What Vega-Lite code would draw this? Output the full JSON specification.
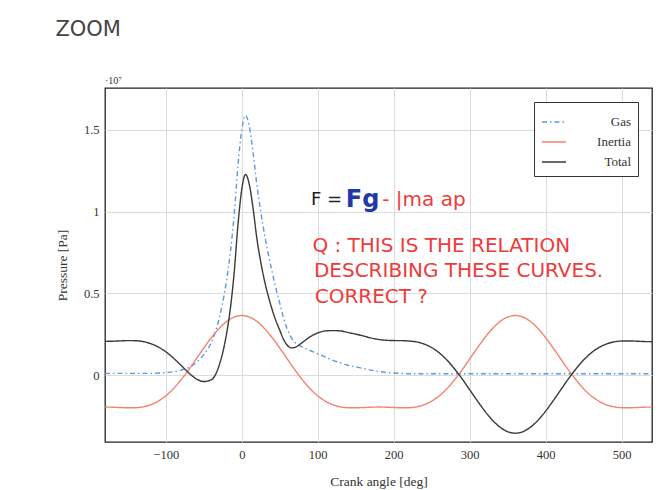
{
 "$schema": "https://vega.github.io/schema/vega-lite/v6.json",
 "width": 547, "height": 354,
 "autosize": {"type": "none"},
 "padding": {"left": 105, "top": 88, "right": 9, "bottom": 48},
 "background": "white",
 "config": {"font": "Liberation Serif", "view": {"stroke": "#222", "strokeWidth": 1.3}},
 "title": {"text": "ZOOM", "anchor": "start", "offset": 36, "font": "DejaVu Sans", "fontSize": 21, "fontWeight": "normal", "color": "#444"},
 "datasets": {
  "curves": [
   {"a":-180,"Gas":0.01,"Inertia":-0.196,"Total":0.206},
   {"a":-170,"Gas":0.01,"Inertia":-0.197,"Total":0.207},
   {"a":-160,"Gas":0.01,"Inertia":-0.199,"Total":0.209},
   {"a":-150,"Gas":0.01,"Inertia":-0.2005,"Total":0.2105},
   {"a":-140,"Gas":0.01,"Inertia":-0.2,"Total":0.21},
   {"a":-130,"Gas":0.01,"Inertia":-0.195,"Total":0.205},
   {"a":-120,"Gas":0.01,"Inertia":-0.182,"Total":0.192},
   {"a":-110,"Gas":0.012,"Inertia":-0.16,"Total":0.172},
   {"a":-100,"Gas":0.015,"Inertia":-0.1275,"Total":0.1425},
   {"a":-90,"Gas":0.02,"Inertia":-0.084,"Total":0.104},
   {"a":-80,"Gas":0.03,"Inertia":-0.03,"Total":0.06},
   {"a":-70,"Gas":0.045,"Inertia":0.031,"Total":0.014},
   {"a":-60,"Gas":0.075,"Inertia":0.098,"Total":-0.023},
   {"a":-50,"Gas":0.125,"Inertia":0.165,"Total":-0.04},
   {"a":-40,"Gas":0.2,"Inertia":0.229,"Total":-0.029},
   {"a":-30,"Gas":0.34,"Inertia":0.2845,"Total":0.0555},
   {"a":-20,"Gas":0.58,"Inertia":0.3275,"Total":0.2525},
   {"a":-15,"Gas":0.75,"Inertia":0.343,"Total":0.407},
   {"a":-10,"Gas":0.98,"Inertia":0.355,"Total":0.625},
   {"a":-5,"Gas":1.28,"Inertia":0.362,"Total":0.918},
   {"a":0,"Gas":1.5,"Inertia":0.364,"Total":1.136},
   {"a":5,"Gas":1.59,"Inertia":0.362,"Total":1.228},
   {"a":10,"Gas":1.52,"Inertia":0.355,"Total":1.165},
   {"a":15,"Gas":1.36,"Inertia":0.343,"Total":1.017},
   {"a":20,"Gas":1.16,"Inertia":0.3275,"Total":0.8325},
   {"a":25,"Gas":1.0,"Inertia":0.308,"Total":0.692},
   {"a":30,"Gas":0.86,"Inertia":0.2845,"Total":0.5755},
   {"a":35,"Gas":0.74,"Inertia":0.258,"Total":0.482},
   {"a":40,"Gas":0.63,"Inertia":0.229,"Total":0.401},
   {"a":45,"Gas":0.53,"Inertia":0.198,"Total":0.332},
   {"a":50,"Gas":0.44,"Inertia":0.165,"Total":0.275},
   {"a":55,"Gas":0.35,"Inertia":0.132,"Total":0.218},
   {"a":60,"Gas":0.28,"Inertia":0.098,"Total":0.182},
   {"a":65,"Gas":0.23,"Inertia":0.064,"Total":0.166},
   {"a":70,"Gas":0.2,"Inertia":0.031,"Total":0.169},
   {"a":80,"Gas":0.17,"Inertia":-0.03,"Total":0.2},
   {"a":90,"Gas":0.15,"Inertia":-0.084,"Total":0.234},
   {"a":100,"Gas":0.13,"Inertia":-0.1275,"Total":0.2575},
   {"a":110,"Gas":0.11,"Inertia":-0.16,"Total":0.27},
   {"a":120,"Gas":0.09,"Inertia":-0.182,"Total":0.272},
   {"a":130,"Gas":0.075,"Inertia":-0.195,"Total":0.27},
   {"a":140,"Gas":0.06,"Inertia":-0.2,"Total":0.26},
   {"a":150,"Gas":0.05,"Inertia":-0.2005,"Total":0.2505},
   {"a":160,"Gas":0.04,"Inertia":-0.199,"Total":0.239},
   {"a":170,"Gas":0.03,"Inertia":-0.197,"Total":0.227},
   {"a":180,"Gas":0.022,"Inertia":-0.196,"Total":0.218},
   {"a":190,"Gas":0.016,"Inertia":-0.197,"Total":0.213},
   {"a":200,"Gas":0.012,"Inertia":-0.199,"Total":0.211},
   {"a":210,"Gas":0.01,"Inertia":-0.2005,"Total":0.2105},
   {"a":220,"Gas":0.008,"Inertia":-0.2,"Total":0.208},
   {"a":230,"Gas":0.008,"Inertia":-0.195,"Total":0.203},
   {"a":240,"Gas":0.008,"Inertia":-0.182,"Total":0.19},
   {"a":250,"Gas":0.008,"Inertia":-0.16,"Total":0.168},
   {"a":260,"Gas":0.008,"Inertia":-0.1275,"Total":0.1355},
   {"a":270,"Gas":0.008,"Inertia":-0.084,"Total":0.092},
   {"a":280,"Gas":0.008,"Inertia":-0.03,"Total":0.038},
   {"a":290,"Gas":0.008,"Inertia":0.031,"Total":-0.023},
   {"a":300,"Gas":0.008,"Inertia":0.098,"Total":-0.09},
   {"a":310,"Gas":0.008,"Inertia":0.165,"Total":-0.157},
   {"a":320,"Gas":0.008,"Inertia":0.229,"Total":-0.221},
   {"a":330,"Gas":0.008,"Inertia":0.2845,"Total":-0.2765},
   {"a":340,"Gas":0.008,"Inertia":0.3275,"Total":-0.3195},
   {"a":350,"Gas":0.008,"Inertia":0.355,"Total":-0.347},
   {"a":360,"Gas":0.008,"Inertia":0.364,"Total":-0.356},
   {"a":370,"Gas":0.008,"Inertia":0.355,"Total":-0.347},
   {"a":380,"Gas":0.008,"Inertia":0.3275,"Total":-0.3195},
   {"a":390,"Gas":0.008,"Inertia":0.2845,"Total":-0.2765},
   {"a":400,"Gas":0.008,"Inertia":0.229,"Total":-0.221},
   {"a":410,"Gas":0.008,"Inertia":0.165,"Total":-0.157},
   {"a":420,"Gas":0.008,"Inertia":0.098,"Total":-0.09},
   {"a":430,"Gas":0.008,"Inertia":0.031,"Total":-0.023},
   {"a":440,"Gas":0.008,"Inertia":-0.03,"Total":0.038},
   {"a":450,"Gas":0.008,"Inertia":-0.084,"Total":0.092},
   {"a":460,"Gas":0.008,"Inertia":-0.1275,"Total":0.1355},
   {"a":470,"Gas":0.008,"Inertia":-0.16,"Total":0.168},
   {"a":480,"Gas":0.008,"Inertia":-0.182,"Total":0.19},
   {"a":490,"Gas":0.008,"Inertia":-0.195,"Total":0.203},
   {"a":500,"Gas":0.008,"Inertia":-0.2,"Total":0.208},
   {"a":510,"Gas":0.008,"Inertia":-0.2005,"Total":0.2085},
   {"a":520,"Gas":0.008,"Inertia":-0.199,"Total":0.207},
   {"a":530,"Gas":0.008,"Inertia":-0.197,"Total":0.205},
   {"a":540,"Gas":0.008,"Inertia":-0.196,"Total":0.204}
  ]
 },
 "layer": [
  {
   "data": {"name": "curves"},
   "transform": [{"fold": ["Gas", "Inertia", "Total"], "as": ["series", "p"]}],
   "mark": {"type": "line", "strokeWidth": 1.4, "interpolate": "monotone"},
   "encoding": {
    "x": {"field": "a", "type": "quantitative",
     "scale": {"domain": [-180, 540], "nice": false, "zero": false},
     "axis": {"values": [-100, 0, 100, 200, 300, 400, 500], "grid": true, "gridColor": "#dcdcdc", "domain": false, "ticks": false,
      "labelPadding": 6, "labelFontSize": 12.5, "labelColor": "#333", "title": "Crank angle [deg]", "titleFontSize": 13.5, "titleFontWeight": "normal", "titleColor": "#333", "titlePadding": 14}},
    "y": {"field": "p", "type": "quantitative",
     "scale": {"domain": [-0.41, 1.757], "nice": false, "zero": false},
     "axis": {"values": [0, 0.5, 1, 1.5], "labelExpr": "'' + datum.value", "grid": true, "gridColor": "#dcdcdc", "domain": false, "ticks": false,
      "labelPadding": 6, "labelFontSize": 12.5, "labelColor": "#333", "title": "Pressure [Pa]", "titleFontSize": 13.5, "titleFontWeight": "normal", "titleColor": "#333", "titlePadding": 14}},
    "color": {"field": "series", "type": "nominal",
     "scale": {"domain": ["Gas", "Inertia", "Total"], "range": ["#5a9ae0", "#f3836f", "#3a3a3a"]},
     "legend": {"title": null, "orient": "top-right", "offset": 14, "fillColor": "white", "strokeColor": "#333", "padding": 7, "labelFontSize": 13, "labelColor": "#333", "labelAlign": "right", "labelOffset": 64, "symbolType": "stroke", "symbolSize": 576, "symbolStrokeWidth": 1.5, "rowPadding": 0}},
    "strokeDash": {"field": "series", "type": "nominal",
     "scale": {"domain": ["Gas", "Inertia", "Total"], "range": [[5, 3, 1.5, 3], [1, 0], [1, 0]]},
     "legend": {"title": null, "orient": "top-right", "offset": 14, "fillColor": "white", "strokeColor": "#333", "padding": 7, "labelFontSize": 13, "labelColor": "#333", "labelAlign": "right", "labelOffset": 64, "symbolType": "stroke", "symbolSize": 576, "symbolStrokeWidth": 1.5, "rowPadding": 0}}
   }
  },
  {
   "data": {"values": [{"a": -180, "v": 1.757, "t": "·10⁷"}]},
   "mark": {"type": "text", "align": "left", "baseline": "bottom", "dy": -2, "fontSize": 10, "color": "#333"},
   "encoding": {"x": {"field": "a", "type": "quantitative"}, "y": {"field": "v", "type": "quantitative"}, "text": {"field": "t"}}
  },
  {
   "data": {"values": [{"a": 91, "v": 1.07, "t": "F ="}]},
   "mark": {"type": "text", "align": "left", "baseline": "middle", "font": "DejaVu Sans", "fontSize": 18, "color": "#222"},
   "encoding": {"x": {"field": "a", "type": "quantitative"}, "y": {"field": "v", "type": "quantitative"}, "text": {"field": "t"}}
  },
  {
   "data": {"values": [{"a": 137, "v": 1.07, "t": "Fg"}]},
   "mark": {"type": "text", "align": "left", "baseline": "middle", "font": "DejaVu Sans", "fontSize": 24, "fontWeight": "bold", "color": "#1f3aa6"},
   "encoding": {"x": {"field": "a", "type": "quantitative"}, "y": {"field": "v", "type": "quantitative"}, "text": {"field": "t"}}
  },
  {
   "data": {"values": [{"a": 185, "v": 1.07, "t": "- |ma ap"}]},
   "mark": {"type": "text", "align": "left", "baseline": "middle", "font": "DejaVu Sans", "fontSize": 20, "color": "#ee3b3b"},
   "encoding": {"x": {"field": "a", "type": "quantitative"}, "y": {"field": "v", "type": "quantitative"}, "text": {"field": "t"}}
  },
  {
   "data": {"values": [
    {"a": 93, "v": 0.79, "t": "Q : THIS IS THE RELATION"},
    {"a": 95, "v": 0.635, "t": "DESCRIBING THESE CURVES."},
    {"a": 96, "v": 0.48, "t": "CORRECT ?"}
   ]},
   "mark": {"type": "text", "align": "left", "baseline": "middle", "font": "DejaVu Sans", "fontSize": 20, "color": "#ee3b3b"},
   "encoding": {"x": {"field": "a", "type": "quantitative"}, "y": {"field": "v", "type": "quantitative"}, "text": {"field": "t"}}
  }
 ]
}
